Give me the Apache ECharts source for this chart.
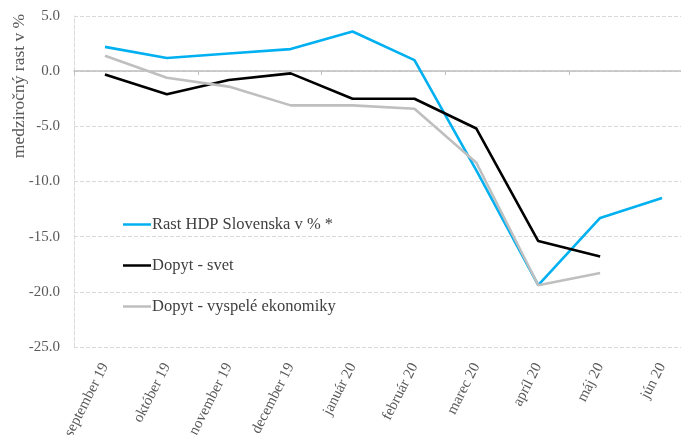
<!DOCTYPE html>
<html>
<head>
<meta charset="utf-8">
<script src="https://cdn.jsdelivr.net/npm/echarts@6/dist/echarts.min.js"></script>
<style>html,body{margin:0;padding:0;background:#fff}#c{width:681px;height:435px}</style>
</head>
<body>
<div id="c"></div>
<script>
var categories = ['september 19','október 19','november 19','december 19','január 20','február 20','marec 20','apríl 20','máj 20','jún 20'];
var hdpSlovensko = [2.2, 1.2, 1.6, 2.0, 3.6, 1.0, -9.0, -19.4, -13.3, -11.5];
var dopytSvet = [-0.3, -2.1, -0.8, -0.2, -2.5, -2.5, -5.2, -15.4, -16.8, null];
var dopytVyspele = [1.4, -0.6, -1.4, -3.1, -3.1, -3.4, -8.3, -19.4, -18.3, null];
var seriesNames = ['Rast HDP Slovenska v % *', 'Dopyt - svet', 'Dopyt - vyspelé ekonomiky'];
var yName = 'medziročný rast v %';

var serif = '"Liberation Serif", "DejaVu Serif", serif';
var chart = echarts.init(document.getElementById('c'));
function mk(name, data, color, w) {
  return {name: name, type: 'line', data: data, xAxisIndex: 0, yAxisIndex: 0,
    showSymbol: false, symbol: 'none', lineStyle: {color: color, width: w}, itemStyle: {color: color},
    animation: false, connectNulls: false};
}
chart.setOption({
  animation: false,
  grid: {left: 74, top: 16, width: 619, height: 331, containLabel: false, outerBoundsMode: 'none'},
  legend: {
    orient: 'vertical', left: 118, top: 211, itemGap: 24,
    icon: 'rect', itemWidth: 28, itemHeight: 2.5,
    textStyle: {fontFamily: serif, fontSize: 16.5, color: '#404040', padding: [0,0,0,-4]},
    data: seriesNames
  },
  xAxis: [{
    type: 'category', data: categories, position: 'bottom', boundaryGap: true,
    axisLine: {show: false, onZero: false}, axisTick: {show: false},
    axisLabel: {rotate: 63, margin: 17, fontFamily: serif, fontSize: 15, color: '#595959', interval: 0},
    splitLine: {show: false}
  }, {
    type: 'category', data: categories, position: 'bottom', boundaryGap: true,
    axisLine: {show: true, onZero: true, onZeroAxisIndex: 0, lineStyle: {color: '#BFBFBF', width: 1.5}},
    axisTick: {show: true, length: 4, lineStyle: {color: '#BFBFBF'}},
    axisLabel: {show: false}, splitLine: {show: false}
  }],
  yAxis: {
    type: 'value', min: -25, max: 5, interval: 5,
    axisLine: {show: true, lineStyle: {color: '#D9D9D9', type: 'dashed'}},
    axisTick: {show: false},
    axisLabel: {formatter: function(v){return v.toFixed(1);}, fontFamily: serif, fontSize: 15, color: '#595959', margin: 14},
    splitLine: {lineStyle: {color: '#D9D9D9', type: 'dashed'}}
  },
  graphic: [{
    type: 'text', x: 19, y: 86, rotation: Math.PI/2,
    style: {text: yName, fontFamily: serif, fontSize: 17.5, fill: '#595959', align: 'center', verticalAlign: 'middle'}
  }],
  series: [
    mk(seriesNames[0], hdpSlovensko, '#00B0F0', 2.6),
    mk(seriesNames[1], dopytSvet, '#000000', 2.6),
    mk(seriesNames[2], dopytVyspele, '#BFBFBF', 2.6)
  ]
});
</script>
</body>
</html>
